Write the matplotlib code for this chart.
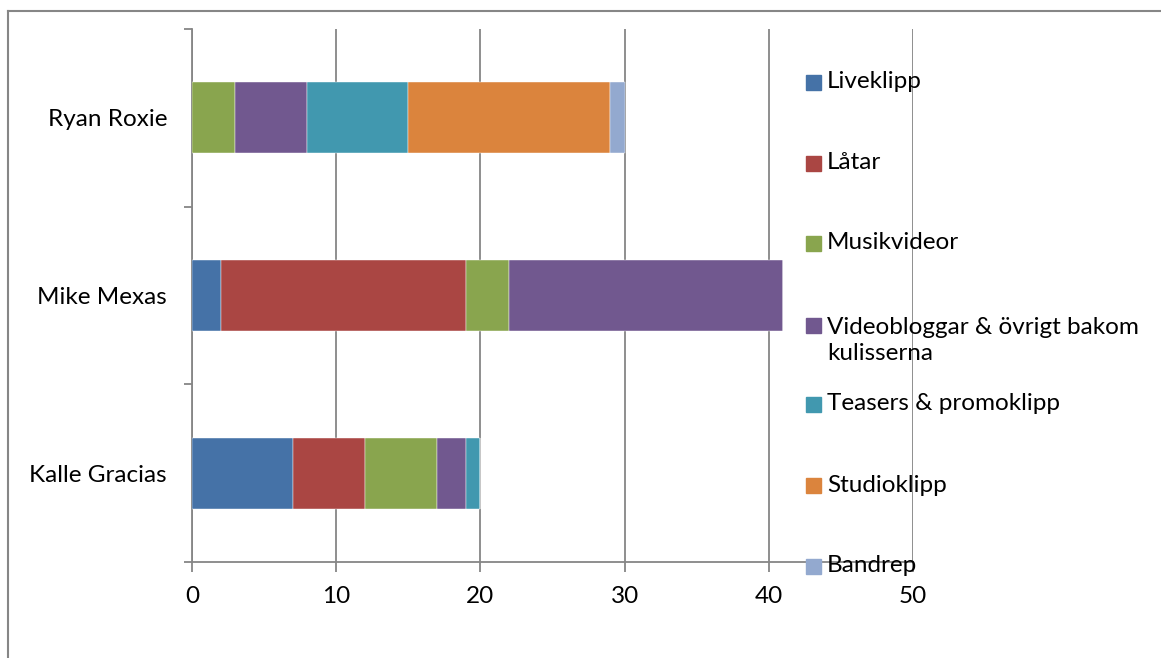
import numpy as np
import matplotlib.pyplot as plt
from matplotlib.patches import Rectangle
from matplotlib.lines import Line2D

plt.rcParams['font.family'] = ['Lato', 'DejaVu Sans']

# ---------------------------------------------------------
# Données
# ---------------------------------------------------------
artistes = ["Kalle Gracias", "Mike Mexas", "Ryan Roxie"]
series = ["Liveklipp", "Låtar", "Musikvideor",
          "Videobloggar & övrigt bakom\nkulisserna",
          "Teasers & promoklipp", "Studioklipp", "Bandrep"]
liveklipp = [7, 2, 0]
latar = [5, 17, 0]
musikvideor = [5, 3, 3]
videobloggar = [2, 19, 5]
teasers = [1, 0, 7]
studioklipp = [0, 0, 14]
bandrep = [0, 0, 1]
valeurs = [liveklipp, latar, musikvideor, videobloggar, teasers, studioklipp, bandrep]
couleurs = ["#4572A7", "#AA4643", "#89A54E", "#71588F", "#4198AF", "#DB843D", "#93A9CF"]
xticks = [0, 10, 20, 30, 40, 50]

gris = "#868686"
W, H = 1161, 658
fs = 17.5

fig = plt.figure(figsize=(W / 100, H / 100), dpi=100)
ax = fig.add_axes([192 / W, 1 - 562 / H, (913 - 192) / W, (562 - 29) / H])

y = np.arange(len(artistes))
gauche = np.zeros(len(artistes))
for vals, c in zip(valeurs, couleurs):
    vals = np.array(vals, dtype=float)
    ax.barh(y, vals, left=gauche, height=0.4, color=c, edgecolor="white",
            linewidth=0.3, zorder=3)
    gauche += vals

ax.set_xlim(0, 50)
ax.set_ylim(-0.5, 2.5)
ax.set_xticks(xticks)
ax.set_xticklabels([str(t) for t in xticks])
ax.set_yticks(y)
ax.set_yticklabels(artistes)
ax.set_yticks([-0.5, 0.5, 1.5, 2.5], minor=True)

ax.grid(axis="x", color=gris, linewidth=1.3, zorder=0)
for s in ["top", "right"]:
    ax.spines[s].set_visible(False)
for s in ["left", "bottom"]:
    ax.spines[s].set_color(gris)
    ax.spines[s].set_linewidth(1.3)

ax.tick_params(axis="y", which="major", length=0, pad=18, labelsize=fs)
ax.tick_params(axis="y", which="minor", length=6, width=1.3, color=gris)
ax.tick_params(axis="x", length=7, width=1.3, color=gris, pad=10, labelsize=fs)

# --- Légende (à droite, sans cadre) ---
y_leg = [82, 163, 243, 325, 404, 485, 566]
for nom, c, yl in zip(series, couleurs, y_leg):
    fig.patches.append(Rectangle((806 / W, 1 - (yl + 7.5) / H), 15 / W, 15 / H,
                                 transform=fig.transFigure, color=c, zorder=5))
    n_lignes = nom.count("\n") + 1
    yc = yl + (n_lignes - 1) * 31 / 2
    fig.text(827 / W, 1 - yc / H, nom, fontsize=fs, va="center", ha="left",
             linespacing=1.28)

# --- Cadre du graphique ---
fig.add_artist(Line2D([8 / W, 8 / W], [0, 1 - 11 / H], color=gris, linewidth=1.5))
fig.add_artist(Line2D([8 / W, 1], [1 - 11 / H, 1 - 11 / H], color=gris, linewidth=1.5))

plt.savefig("out.png", dpi=100)
